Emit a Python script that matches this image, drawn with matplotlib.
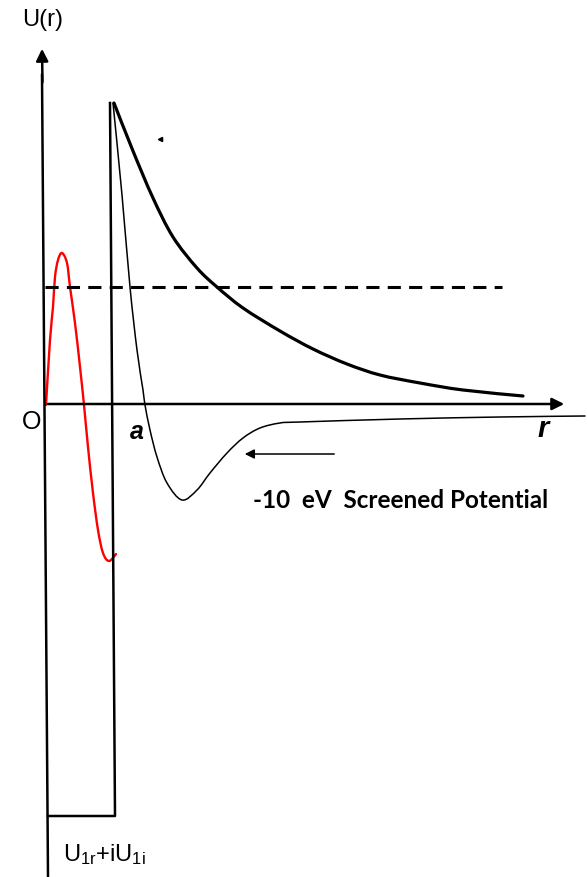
import matplotlib.pyplot as plt
from matplotlib.path import Path
from matplotlib.patches import PathPatch

plt.rcParams['mathtext.fontset'] = 'custom'
plt.rcParams['mathtext.rm'] = 'Liberation Sans'
plt.rcParams['mathtext.it'] = 'Liberation Sans:italic'

# diagram units: r to the right of O, U up from the r axis (1 unit ~ 1 px)
# coulomb barrier (thick curve)
bar_r = [69, 88, 108, 128, 152, 172, 198, 235, 268, 302, 335, 375, 418, 478]
bar_u = [302, 254, 207, 168, 137, 118, 97, 74, 56, 41, 30, 22, 15, 9]

# -10 eV screened potential (thin curve)
scr_r = [68, 77, 85, 92, 98, 100, 105, 112, 122, 137, 152, 165, 182, 198, 215, 235, 255, 355, 455, 540]
scr_u = [302, 210, 118, 55, 15, 0, -25, -52, -78, -95, -85, -68, -48, -33, -23, -18, -17, -14, -12, -11]

# wave function inside the well (red)
wf_r = [1, 5, 8, 10, 13, 17, 22, 25, 30, 35, 39, 43, 48, 53, 58, 64, 71]
wf_u = [0, 65, 98, 128, 145, 152, 142, 118, 82, 38, 0, -42, -88, -125, -148, -156, -149]

# square well: U1r + iU1i, radius a
well_r = [3, 70, 65]
well_u = [-411, -411, 302]
energy = 118
dash_end = 457


def smooth(ax, xs, ys, **kw):
    # catmull-rom through the read points, drawn as bezier segments
    pts = list(zip(xs, ys))
    verts = [pts[0]]
    codes = [Path.MOVETO]
    for i in range(len(pts) - 1):
        p0 = pts[i - 1] if i > 0 else pts[i]
        p1, p2 = pts[i], pts[i + 1]
        p3 = pts[i + 2] if i + 2 < len(pts) else p2
        c1 = (p1[0] + (p2[0] - p0[0]) / 6, p1[1] + (p2[1] - p0[1]) / 6)
        c2 = (p2[0] - (p3[0] - p1[0]) / 6, p2[1] - (p3[1] - p1[1]) / 6)
        verts += [c1, c2, p2]
        codes += [Path.CURVE4] * 3
    ax.add_patch(PathPatch(Path(verts, codes), fill=False, capstyle='round', **kw))


fig = plt.figure(figsize=(5.88, 8.77), dpi=100)
ax = fig.add_axes([0, 0, 1, 1])
ax.set_xlim(-45, 543)
ax.set_ylim(-472, 405)
ax.axis('off')

# axes with arrows
ax.plot([-3, 3], [330, -472], color='black', lw=1.8)
ax.annotate('', xy=(-3, 359), xytext=(-2.5, 320),
            arrowprops=dict(arrowstyle='-|>', color='black', lw=1.8, mutation_scale=18))
ax.annotate('', xy=(522, 1), xytext=(0, 1),
            arrowprops=dict(arrowstyle='-|>', color='black', lw=1.8, mutation_scale=18))

# well
ax.plot(well_r, well_u, color='black', lw=1.8)

# energy level
ax.plot([0, dash_end], [energy, energy], color='black', lw=2.2, ls=(0, (4.3, 2.7)))

smooth(ax, bar_r, bar_u, edgecolor='black', lw=2.3)
smooth(ax, scr_r, scr_u, edgecolor='black', lw=1.1)
smooth(ax, wf_r, wf_u, edgecolor='red', lw=1.7)

# arrow pointing at the screened potential
ax.annotate('', xy=(197, -49), xytext=(292, -49),
            arrowprops=dict(arrowstyle='-|>', color='black', lw=1.1, mutation_scale=14))
ax.plot([115], [266], marker='<', color='black', ms=3)

ax.text(-2, 385, 'U(r)', fontsize=17, family='Liberation Sans', ha='center', va='center')
ax.text(-13, -17, 'O', fontsize=18, family='Liberation Sans', ha='center', va='center')
ax.text(92, -27, 'a', fontsize=18, family='Liberation Sans', weight='bold', style='italic',
        ha='center', va='center')
ax.text(498, -24, 'r', fontsize=21, family='Liberation Sans', weight='bold', style='italic',
        ha='center', va='center')
ax.text(208, -96, '-10  eV  Screened Potential', fontsize=17.5, family='Lato', weight='bold',
        ha='left', va='center')
ax.text(59, -450, r'U$_{\rm 1r}$+iU$_{\rm 1i}$', fontsize=17, family='Liberation Sans',
        ha='center', va='center')

fig.savefig('out.png', dpi=100)
